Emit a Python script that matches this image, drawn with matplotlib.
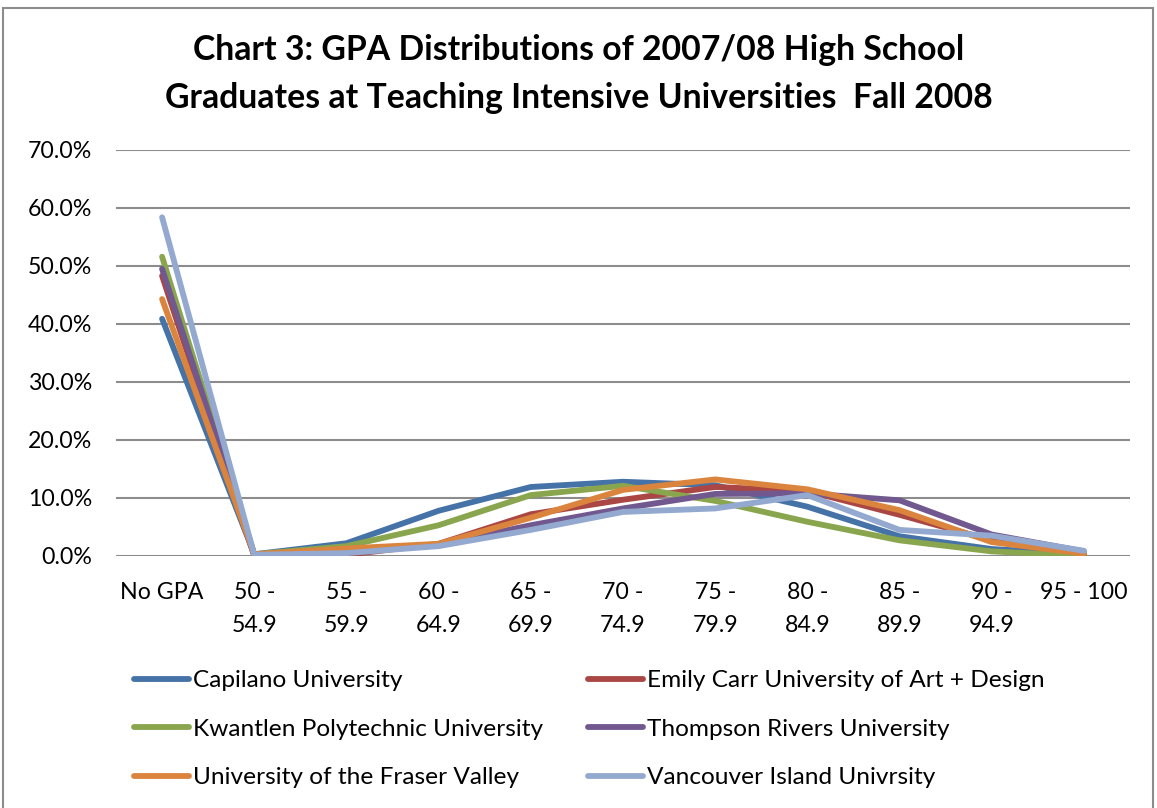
import matplotlib.pyplot as plt
from matplotlib.patches import Rectangle
from matplotlib.ticker import FuncFormatter

# categories on the x axis
categories = ["No GPA", "50 -\n54.9", "55 -\n59.9", "60 -\n64.9", "65 -\n69.9",
              "70 -\n74.9", "75 -\n79.9", "80 -\n84.9", "85 -\n89.9", "90 -\n94.9",
              "95 - 100"]

# share of graduates (%)
capilano = [40.9, 0.3, 2.2, 7.8, 11.9, 12.8, 12.2, 8.5, 3.4, 1.2, 0.3]
emily_carr = [48.3, 0.0, 0.2, 2.1, 7.2, 9.7, 11.9, 11.2, 7.1, 2.7, 0.2]
kwantlen = [51.6, 0.3, 1.7, 5.3, 10.5, 12.1, 9.5, 5.9, 2.7, 0.8, 0.0]
thompson = [49.5, 0.2, 0.6, 2.0, 5.3, 8.2, 10.7, 10.8, 9.6, 3.7, 0.8]
fraser_valley = [44.3, 0.3, 1.3, 2.1, 6.6, 11.4, 13.2, 11.5, 7.9, 2.4, 0.4]
vancouver_island = [58.4, 0.2, 0.5, 1.7, 4.5, 7.6, 8.2, 10.5, 4.5, 3.5, 0.9]

names = ["Capilano University", "Emily Carr University of Art + Design",
         "Kwantlen Polytechnic University", "Thompson Rivers University",
         "University of the Fraser Valley", "Vancouver Island Univrsity"]
series = [capilano, emily_carr, kwantlen, thompson, fraser_valley, vancouver_island]
colors = ["#4572A7", "#AA4643", "#89A54E", "#71588F", "#DB843D", "#93A9CF"]

plt.rcParams['font.family'] = ['Lato', 'DejaVu Sans']

fig = plt.figure(figsize=(11.57, 8.08), dpi=100)
ax = fig.add_axes([116 / 1157, 1 - 556 / 808, (1130 - 116) / 1157, (556 - 150) / 808])

x = list(range(len(categories)))
lines = []
for vals, name, c in zip(series, names, colors):
    ln, = ax.plot(x, vals, color=c, lw=4.2, label=name, solid_capstyle='round',
                  solid_joinstyle='round', zorder=3)
    lines.append(ln)

ax.set_xlim(-0.5, len(categories) - 0.5)
ax.set_ylim(0, 70)
ax.set_yticks(range(0, 71, 10))
ax.yaxis.set_major_formatter(FuncFormatter(lambda v, p: "%.1f%%" % v))
ax.set_xticks(x)
ax.set_xticklabels(categories, linespacing=1.7, va='top')
ax.tick_params(axis='both', length=0, labelsize=16.7)
ax.tick_params(axis='x', pad=19)
ax.tick_params(axis='y', pad=17)
ax.grid(axis='y', color='#8c8c8c', lw=1.5)
ax.set_axisbelow(True)
for s in ax.spines.values():
    s.set_visible(False)

fig.text(0.5, 1 - 74 / 808, "Chart 3: GPA Distributions of 2007/08 High School\n"
         "Graduates at Teaching Intensive Universities  Fall 2008",
         ha='center', va='center', fontsize=24.3, fontweight='bold', linespacing=1.58)

# legend reads row by row in the original
order = [0, 2, 4, 1, 3, 5]
fig.legend([lines[i] for i in order], [names[i] for i in order],
           loc='upper left', bbox_to_anchor=(112 / 1157, 1 - 648 / 808), ncol=2,
           frameon=False, fontsize=17.6, handlelength=2.25, handletextpad=0.15,
           columnspacing=1.85, labelspacing=1.12)

fig.patches.append(Rectangle((3 / 1157, -0.01), 1150 / 1157, 1.0, transform=fig.transFigure,
                             fill=False, edgecolor='#8c8c8c', lw=1.5))

fig.savefig("out.png", dpi=100)
